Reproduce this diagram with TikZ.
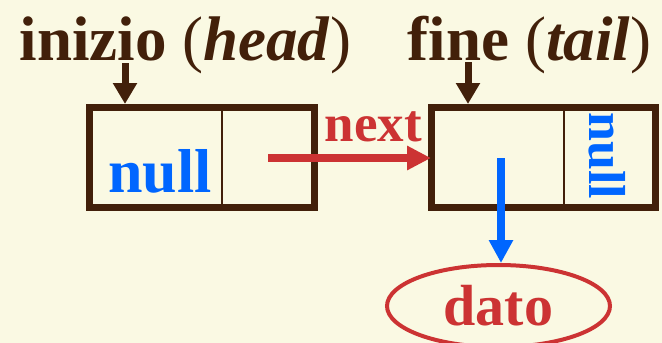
\documentclass[tikz,border=0pt]{standalone}
\usepackage{fontspec}
\setmainfont{Liberation Serif}
\usetikzlibrary{arrows.meta,shapes.geometric}
\definecolor{bgcol}{RGB}{250,249,227}
\definecolor{brn}{RGB}{66,32,10}
\definecolor{rd}{RGB}{204,51,51}
\definecolor{bl}{RGB}{0,102,255}
\newcommand{\lparen}{\textmd{\upshape(}}
\newcommand{\rparen}{\textmd{\upshape)}}
\begin{document}
\begin{tikzpicture}[x=1pt,y=-1pt,
  lbl/.style={inner sep=0pt, anchor=base, text=brn, font=\fontsize{63}{70}\selectfont\bfseries},
  cellbox/.style={draw=brn, line width=7pt, rectangle, inner sep=0pt, minimum height=100pt},
  divider/.style={draw=brn, line width=2.5pt},
  ptr/.style={draw=brn, line width=7pt, -{Triangle[length=21pt,width=23pt]}},
  nulltxt/.style={inner sep=0pt, text=bl, font=\bfseries},
  nextarrow/.style={draw=rd, line width=8pt, -{Triangle[length=24pt,width=23pt]}},
  datoarrow/.style={draw=bl, line width=8pt, -{Triangle[length=23pt,width=23pt]}},
  datonode/.style={ellipse, draw=rd, line width=4pt, inner sep=0pt, text=rd,
    font=\fontsize{58}{64}\selectfont\bfseries}
]
\useasboundingbox (0,0) rectangle (662,343);
\fill[bgcol] (0,0) rectangle (662,343);

% labels
\node[lbl] (headlbl) at (185.5,60) {inizio \lparen\textit{head}\rparen};
\node[lbl] (taillbl) at (529.5,60) {fine \lparen\textit{tail}\rparen};

% boxes
\node[cellbox, minimum width=225pt] (n1) at (202,157.5) {};
\node[cellbox, minimum width=224pt] (n2) at (543.5,157.5) {};
\coordinate (d1) at (222,157.5);
\coordinate (d2) at (564,157.5);
\draw[divider] (d1 |- n1.north) -- (d1 |- n1.south);
\draw[divider] (d2 |- n2.north) -- (d2 |- n2.south);

% pointer arrows from labels
\coordinate (h0) at (125,63);
\coordinate (t0) at (468,62);
\draw[ptr] (h0) -- (h0 |- n1.north);
\draw[ptr] (t0) -- (t0 |- n2.north);

% null texts
\node[nulltxt, anchor=base, font=\fontsize{62}{68}\selectfont\bfseries] (null1) at (160,192) {null};
\node[nulltxt, rotate=-90, font=\fontsize{52}{58}\selectfont\bfseries] (null2) at (607.5,156) {null};

% next arrow
\coordinate (nx0) at (268,158);
\draw[nextarrow, shorten >=-3pt] (nx0) -- (nx0 -| n2.west);
\node[inner sep=0pt, anchor=base, text=rd, font=\fontsize{53}{58}\selectfont\bfseries] (nextlbl) at (373.5,141) {next};

% dato
\node[datonode, minimum width=223pt, minimum height=82pt] (dato) at (498.5,306) {dato};
\coordinate (dt0) at (501,158);
\draw[datoarrow] (dt0) -- (dt0 |- dato.north);
\end{tikzpicture}
\end{document}
